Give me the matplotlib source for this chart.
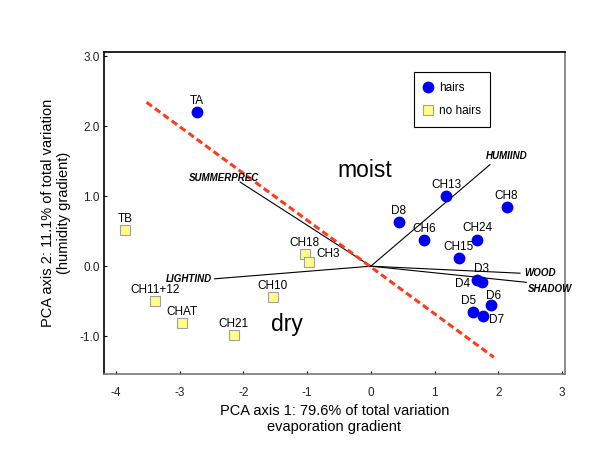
import numpy as np
import matplotlib
matplotlib.use('Agg')
import matplotlib.pyplot as plt

plt.rcParams['font.family'] = ['Liberation Sans', 'DejaVu Sans']
plt.rcParams['axes.unicode_minus'] = False

# sites with hairs (blue circles)
hair_names = ['TA', 'D8', 'CH13', 'CH8', 'CH6', 'CH24', 'CH15', 'D3', 'D4', 'D6', 'D5', 'D7']
hair_x = [-2.73, 0.44, 1.18, 2.13, 0.84, 1.67, 1.38, 1.67, 1.74, 1.88, 1.60, 1.76]
hair_y = [2.20, 0.63, 1.00, 0.84, 0.37, 0.38, 0.11, -0.20, -0.23, -0.56, -0.66, -0.71]

# sites without hairs (yellow squares)
nohair_names = ['TB', 'CH18', 'CH3', 'CH10', 'CH11+12', 'CHAT', 'CH21']
nohair_x = [-3.86, -1.04, -0.97, -1.54, -3.39, -2.96, -2.15]
nohair_y = [0.51, 0.17, 0.06, -0.44, -0.50, -0.81, -0.98]

# environmental vectors
vec_names = ['HUMIIND', 'SUMMERPREC', 'LIGHTIND', 'WOOD', 'SHADOW']
vec_x = [1.87, -2.05, -2.45, 2.34, 2.44]
vec_y = [1.45, 1.20, -0.18, -0.10, -0.23]

# dividing line
div_x = [-3.52, 1.93]
div_y = [2.34, -1.30]

fig = plt.figure(figsize=(6, 4.67), dpi=100)
ax = fig.add_axes([0.173, 0.199, 0.769, 0.69])

ax.plot(div_x, div_y, color='#ff3b1f', ls=(0, (2.2, 1.2)), lw=2.2, zorder=2)

for nm, vx, vy in zip(vec_names, vec_x, vec_y):
    ax.plot([0, vx], [0, vy], color='black', lw=0.8, zorder=1)

# label offsets for vectors (points)
vec_off = {'HUMIIND': (12, 6, 'center'), 'SUMMERPREC': (-12, 3, 'center'),
           'LIGHTIND': (-2, 0, 'right'), 'WOOD': (3, 0, 'left'),
           'SHADOW': (1, -5, 'left')}
for nm, vx, vy in zip(vec_names, vec_x, vec_y):
    dx, dy, ha = vec_off[nm]
    ax.annotate(nm, (vx, vy), xytext=(dx, dy), textcoords='offset points',
                ha=ha, va='center', fontsize=7, fontweight='bold', style='italic')

ax.plot(hair_x, hair_y, 'o', color='#0000ee', ms=7.5, mec='#0000ee', ls='none',
        label='hairs', zorder=3)
ax.plot(nohair_x, nohair_y, 's', color='#ffff88', ms=7, mec='#a0a0a0', mew=0.8,
        ls='none', label='no hairs', zorder=3)

lab_off = {'D3': (3, 8, 'center'), 'D4': (-14, -1, 'center'), 'D6': (2, 7, 'center'),
           'D5': (-3, 8, 'center'), 'D7': (10, -3, 'center'), 'CH3': (14, 6, 'center')}
for nm, px, py in zip(hair_names + nohair_names, hair_x + nohair_x, hair_y + nohair_y):
    dx, dy, ha = lab_off.get(nm, (0, 8, 'center'))
    ax.annotate(nm, (px, py), xytext=(dx, dy), textcoords='offset points',
                ha=ha, va='center', fontsize=8.5)

ax.text(-0.09, 1.37, 'moist', fontsize=16.5, ha='center', va='center')
ax.text(-1.32, -0.83, 'dry', fontsize=16.5, ha='center', va='center')

ax.set_xlim(-4.19, 3.05)
ax.set_ylim(-1.54, 3.06)
ax.set_xticks([-4, -3, -2, -1, 0, 1, 2, 3])
ax.set_yticks([-1, 0, 1, 2, 3])
ax.set_yticklabels(['-1.0', '0.0', '1.0', '2.0', '3.0'])
ax.tick_params(direction='in', length=2, labelsize=8.5, labelcolor='#222222', pad=9)
ax.tick_params(axis='y', pad=3)

ax.spines['left'].set_color('black')
ax.spines['top'].set_color('black')
ax.spines['right'].set_color('#777777')
ax.spines['bottom'].set_color('#777777')
for s in ax.spines.values():
    s.set_linewidth(1.2)

ax.set_xlabel('PCA axis 1: 79.6% of total variation\nevaporation gradient', fontsize=10.5)
ax.set_ylabel('PCA axis 2: 11.1% of total variation\n(humidity gradient)', fontsize=10.5,
              labelpad=6)

leg = ax.legend(loc='upper left', bbox_to_anchor=(0.66, 0.955), fontsize=8.5,
                fancybox=False, edgecolor='black', framealpha=1,
                handlelength=0.8, handletextpad=0.5, borderpad=0.8, labelspacing=1.0)
leg.get_frame().set_linewidth(0.8)

fig.savefig('out.png', dpi=100)
